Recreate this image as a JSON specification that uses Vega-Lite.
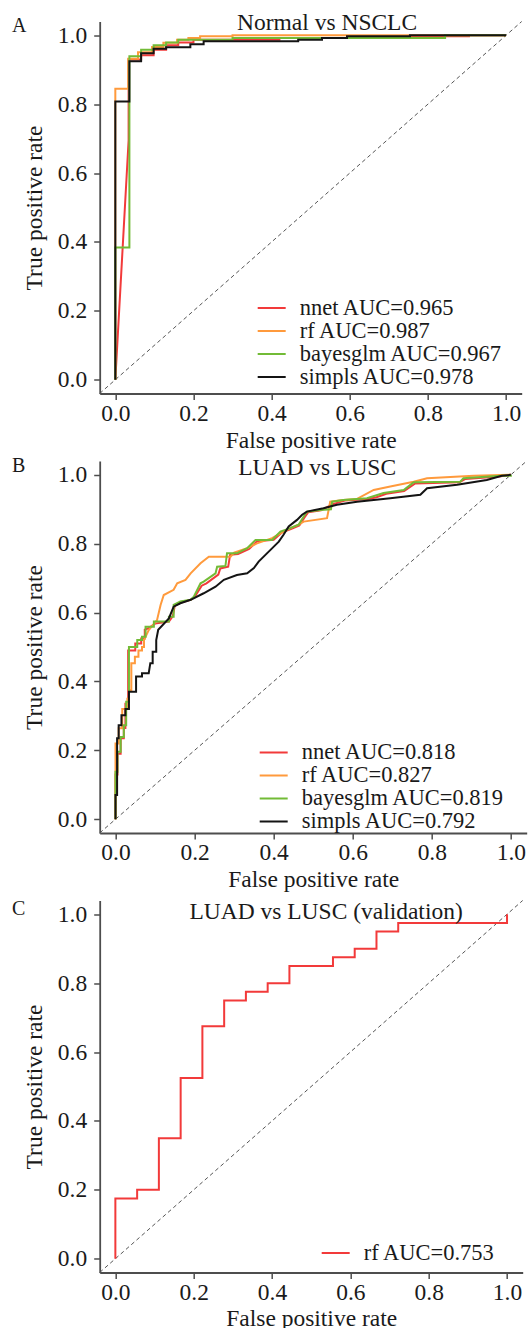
{
  "$schema": "https://vega.github.io/schema/vega-lite/v6.json",
  "padding": {"left": 11.7, "top": 10.5, "right": 0, "bottom": 0},
  "autosize": {"type": "pad"},
  "background": "white",
  "config": {
    "font": "Liberation Serif",
    "view": {"stroke": null},
    "axis": {"grid": false, "domainColor": "#4d4d4d", "domainWidth": 1.8, "tickColor": "#4d4d4d", "tickWidth": 1.5, "tickSize": 6, "labelFont": "Liberation Serif", "labelFontSize": 23.5, "labelColor": "#1a1a1a", "titleFont": "Liberation Serif", "titleFontSize": 23.5, "titleFontWeight": "normal", "titleColor": "#1a1a1a", "labelFlush": false, "labelOverlap": false},
    "axisX": {"labelPadding": 2, "titlePadding": 3},
    "axisY": {"labelPadding": 7, "titlePadding": 11},
    "legend": {"title": null, "orient": "none", "symbolType": "stroke", "symbolSize": 784, "symbolStrokeWidth": 2, "labelFont": "Liberation Serif", "labelFontSize": 22.5, "labelColor": "#1a1a1a", "labelOffset": 13, "rowPadding": 0, "clipHeight": 21, "padding": 0, "labelLimit": 400}
  },
  "datasets": {
    "A": [
      {"model":"nnet","fpr":0,"tpr":0},{"model":"nnet","fpr":0.034,"tpr":0.695},{"model":"nnet","fpr":0.034,"tpr":0.93},{"model":"nnet","fpr":0.066,"tpr":0.93},{"model":"nnet","fpr":0.066,"tpr":0.942},{"model":"nnet","fpr":0.098,"tpr":0.942},{"model":"nnet","fpr":0.098,"tpr":0.958},{"model":"nnet","fpr":0.13,"tpr":0.958},{"model":"nnet","fpr":0.13,"tpr":0.971},{"model":"nnet","fpr":0.161,"tpr":0.971},{"model":"nnet","fpr":0.161,"tpr":0.979},{"model":"nnet","fpr":0.2,"tpr":0.979},{"model":"nnet","fpr":0.2,"tpr":0.987},{"model":"nnet","fpr":0.42,"tpr":0.987},{"model":"nnet","fpr":0.42,"tpr":0.992},{"model":"nnet","fpr":0.6,"tpr":0.992},{"model":"nnet","fpr":0.6,"tpr":0.997},{"model":"nnet","fpr":0.905,"tpr":0.997},{"model":"nnet","fpr":0.905,"tpr":1},{"model":"nnet","fpr":1,"tpr":1},
      {"model":"rf","fpr":0,"tpr":0},{"model":"rf","fpr":0,"tpr":0.845},{"model":"rf","fpr":0.033,"tpr":0.845},{"model":"rf","fpr":0.033,"tpr":0.932},{"model":"rf","fpr":0.058,"tpr":0.932},{"model":"rf","fpr":0.058,"tpr":0.951},{"model":"rf","fpr":0.094,"tpr":0.951},{"model":"rf","fpr":0.094,"tpr":0.966},{"model":"rf","fpr":0.123,"tpr":0.966},{"model":"rf","fpr":0.123,"tpr":0.978},{"model":"rf","fpr":0.158,"tpr":0.978},{"model":"rf","fpr":0.158,"tpr":0.987},{"model":"rf","fpr":0.187,"tpr":0.987},{"model":"rf","fpr":0.187,"tpr":0.992},{"model":"rf","fpr":0.217,"tpr":0.992},{"model":"rf","fpr":0.217,"tpr":0.997},{"model":"rf","fpr":0.3,"tpr":0.997},{"model":"rf","fpr":0.3,"tpr":1},{"model":"rf","fpr":1,"tpr":1},
      {"model":"bayesglm","fpr":0,"tpr":0},{"model":"bayesglm","fpr":0,"tpr":0.384},{"model":"bayesglm","fpr":0.036,"tpr":0.384},{"model":"bayesglm","fpr":0.036,"tpr":0.939},{"model":"bayesglm","fpr":0.066,"tpr":0.939},{"model":"bayesglm","fpr":0.066,"tpr":0.958},{"model":"bayesglm","fpr":0.098,"tpr":0.958},{"model":"bayesglm","fpr":0.098,"tpr":0.971},{"model":"bayesglm","fpr":0.13,"tpr":0.971},{"model":"bayesglm","fpr":0.13,"tpr":0.979},{"model":"bayesglm","fpr":0.161,"tpr":0.979},{"model":"bayesglm","fpr":0.161,"tpr":0.987},{"model":"bayesglm","fpr":0.3,"tpr":0.987},{"model":"bayesglm","fpr":0.3,"tpr":0.992},{"model":"bayesglm","fpr":0.844,"tpr":0.992},{"model":"bayesglm","fpr":0.844,"tpr":1},{"model":"bayesglm","fpr":1,"tpr":1},
      {"model":"simpls","fpr":0,"tpr":0},{"model":"simpls","fpr":0,"tpr":0.808},{"model":"simpls","fpr":0.036,"tpr":0.808},{"model":"simpls","fpr":0.036,"tpr":0.925},{"model":"simpls","fpr":0.066,"tpr":0.925},{"model":"simpls","fpr":0.066,"tpr":0.948},{"model":"simpls","fpr":0.098,"tpr":0.948},{"model":"simpls","fpr":0.098,"tpr":0.961},{"model":"simpls","fpr":0.13,"tpr":0.961},{"model":"simpls","fpr":0.13,"tpr":0.965},{"model":"simpls","fpr":0.192,"tpr":0.965},{"model":"simpls","fpr":0.192,"tpr":0.974},{"model":"simpls","fpr":0.226,"tpr":0.974},{"model":"simpls","fpr":0.226,"tpr":0.983},{"model":"simpls","fpr":0.468,"tpr":0.983},{"model":"simpls","fpr":0.468,"tpr":0.987},{"model":"simpls","fpr":0.529,"tpr":0.987},{"model":"simpls","fpr":0.529,"tpr":0.992},{"model":"simpls","fpr":0.593,"tpr":0.992},{"model":"simpls","fpr":0.593,"tpr":0.997},{"model":"simpls","fpr":0.754,"tpr":0.997},{"model":"simpls","fpr":0.754,"tpr":1},{"model":"simpls","fpr":1,"tpr":1}
    ],
    "B": [
      {"model":"nnet","fpr":0,"tpr":0},{"model":"nnet","fpr":0,"tpr":0.13},{"model":"nnet","fpr":0.005,"tpr":0.13},{"model":"nnet","fpr":0.005,"tpr":0.19},{"model":"nnet","fpr":0.013,"tpr":0.19},{"model":"nnet","fpr":0.013,"tpr":0.235},{"model":"nnet","fpr":0.021,"tpr":0.235},{"model":"nnet","fpr":0.021,"tpr":0.265},{"model":"nnet","fpr":0.025,"tpr":0.265},{"model":"nnet","fpr":0.025,"tpr":0.335},{"model":"nnet","fpr":0.032,"tpr":0.335},{"model":"nnet","fpr":0.032,"tpr":0.49},{"model":"nnet","fpr":0.05,"tpr":0.49},{"model":"nnet","fpr":0.05,"tpr":0.51},{"model":"nnet","fpr":0.065,"tpr":0.51},{"model":"nnet","fpr":0.065,"tpr":0.525},{"model":"nnet","fpr":0.074,"tpr":0.525},{"model":"nnet","fpr":0.074,"tpr":0.55},{"model":"nnet","fpr":0.084,"tpr":0.555},{"model":"nnet","fpr":0.1,"tpr":0.568},{"model":"nnet","fpr":0.135,"tpr":0.574},{"model":"nnet","fpr":0.145,"tpr":0.59},{"model":"nnet","fpr":0.15,"tpr":0.62},{"model":"nnet","fpr":0.168,"tpr":0.63},{"model":"nnet","fpr":0.19,"tpr":0.637},{"model":"nnet","fpr":0.2,"tpr":0.645},{"model":"nnet","fpr":0.218,"tpr":0.678},{"model":"nnet","fpr":0.23,"tpr":0.685},{"model":"nnet","fpr":0.26,"tpr":0.71},{"model":"nnet","fpr":0.265,"tpr":0.728},{"model":"nnet","fpr":0.285,"tpr":0.733},{"model":"nnet","fpr":0.29,"tpr":0.768},{"model":"nnet","fpr":0.31,"tpr":0.77},{"model":"nnet","fpr":0.338,"tpr":0.785},{"model":"nnet","fpr":0.358,"tpr":0.807},{"model":"nnet","fpr":0.4,"tpr":0.811},{"model":"nnet","fpr":0.42,"tpr":0.832},{"model":"nnet","fpr":0.445,"tpr":0.843},{"model":"nnet","fpr":0.465,"tpr":0.853},{"model":"nnet","fpr":0.478,"tpr":0.876},{"model":"nnet","fpr":0.487,"tpr":0.891},{"model":"nnet","fpr":0.52,"tpr":0.897},{"model":"nnet","fpr":0.55,"tpr":0.915},{"model":"nnet","fpr":0.58,"tpr":0.925},{"model":"nnet","fpr":0.64,"tpr":0.93},{"model":"nnet","fpr":0.66,"tpr":0.935},{"model":"nnet","fpr":0.685,"tpr":0.945},{"model":"nnet","fpr":0.73,"tpr":0.953},{"model":"nnet","fpr":0.758,"tpr":0.975},{"model":"nnet","fpr":0.87,"tpr":0.978},{"model":"nnet","fpr":0.885,"tpr":0.988},{"model":"nnet","fpr":0.97,"tpr":0.995},{"model":"nnet","fpr":1,"tpr":1},
      {"model":"rf","fpr":0,"tpr":0},{"model":"rf","fpr":0,"tpr":0.22},{"model":"rf","fpr":0.008,"tpr":0.22},{"model":"rf","fpr":0.008,"tpr":0.264},{"model":"rf","fpr":0.017,"tpr":0.264},{"model":"rf","fpr":0.017,"tpr":0.32},{"model":"rf","fpr":0.03,"tpr":0.32},{"model":"rf","fpr":0.03,"tpr":0.35},{"model":"rf","fpr":0.034,"tpr":0.35},{"model":"rf","fpr":0.034,"tpr":0.375},{"model":"rf","fpr":0.04,"tpr":0.375},{"model":"rf","fpr":0.04,"tpr":0.453},{"model":"rf","fpr":0.049,"tpr":0.453},{"model":"rf","fpr":0.049,"tpr":0.472},{"model":"rf","fpr":0.058,"tpr":0.472},{"model":"rf","fpr":0.058,"tpr":0.49},{"model":"rf","fpr":0.067,"tpr":0.49},{"model":"rf","fpr":0.067,"tpr":0.5},{"model":"rf","fpr":0.072,"tpr":0.5},{"model":"rf","fpr":0.072,"tpr":0.52},{"model":"rf","fpr":0.084,"tpr":0.549},{"model":"rf","fpr":0.105,"tpr":0.578},{"model":"rf","fpr":0.114,"tpr":0.622},{"model":"rf","fpr":0.122,"tpr":0.651},{"model":"rf","fpr":0.147,"tpr":0.666},{"model":"rf","fpr":0.156,"tpr":0.685},{"model":"rf","fpr":0.177,"tpr":0.695},{"model":"rf","fpr":0.19,"tpr":0.714},{"model":"rf","fpr":0.215,"tpr":0.743},{"model":"rf","fpr":0.236,"tpr":0.762},{"model":"rf","fpr":0.291,"tpr":0.762},{"model":"rf","fpr":0.3,"tpr":0.774},{"model":"rf","fpr":0.333,"tpr":0.787},{"model":"rf","fpr":0.358,"tpr":0.801},{"model":"rf","fpr":0.396,"tpr":0.816},{"model":"rf","fpr":0.417,"tpr":0.83},{"model":"rf","fpr":0.442,"tpr":0.845},{"model":"rf","fpr":0.463,"tpr":0.855},{"model":"rf","fpr":0.476,"tpr":0.864},{"model":"rf","fpr":0.535,"tpr":0.874},{"model":"rf","fpr":0.543,"tpr":0.922},{"model":"rf","fpr":0.576,"tpr":0.927},{"model":"rf","fpr":0.611,"tpr":0.93},{"model":"rf","fpr":0.653,"tpr":0.956},{"model":"rf","fpr":0.695,"tpr":0.966},{"model":"rf","fpr":0.754,"tpr":0.98},{"model":"rf","fpr":0.788,"tpr":0.99},{"model":"rf","fpr":0.906,"tpr":0.997},{"model":"rf","fpr":1,"tpr":1},
      {"model":"bayesglm","fpr":0,"tpr":0},{"model":"bayesglm","fpr":0,"tpr":0.138},{"model":"bayesglm","fpr":0.005,"tpr":0.138},{"model":"bayesglm","fpr":0.005,"tpr":0.196},{"model":"bayesglm","fpr":0.013,"tpr":0.196},{"model":"bayesglm","fpr":0.013,"tpr":0.239},{"model":"bayesglm","fpr":0.021,"tpr":0.239},{"model":"bayesglm","fpr":0.021,"tpr":0.273},{"model":"bayesglm","fpr":0.027,"tpr":0.273},{"model":"bayesglm","fpr":0.027,"tpr":0.341},{"model":"bayesglm","fpr":0.034,"tpr":0.341},{"model":"bayesglm","fpr":0.034,"tpr":0.5},{"model":"bayesglm","fpr":0.055,"tpr":0.5},{"model":"bayesglm","fpr":0.055,"tpr":0.52},{"model":"bayesglm","fpr":0.067,"tpr":0.52},{"model":"bayesglm","fpr":0.067,"tpr":0.53},{"model":"bayesglm","fpr":0.076,"tpr":0.53},{"model":"bayesglm","fpr":0.076,"tpr":0.559},{"model":"bayesglm","fpr":0.097,"tpr":0.559},{"model":"bayesglm","fpr":0.097,"tpr":0.574},{"model":"bayesglm","fpr":0.135,"tpr":0.574},{"model":"bayesglm","fpr":0.135,"tpr":0.588},{"model":"bayesglm","fpr":0.147,"tpr":0.588},{"model":"bayesglm","fpr":0.147,"tpr":0.622},{"model":"bayesglm","fpr":0.164,"tpr":0.632},{"model":"bayesglm","fpr":0.19,"tpr":0.637},{"model":"bayesglm","fpr":0.198,"tpr":0.646},{"model":"bayesglm","fpr":0.215,"tpr":0.685},{"model":"bayesglm","fpr":0.223,"tpr":0.69},{"model":"bayesglm","fpr":0.253,"tpr":0.714},{"model":"bayesglm","fpr":0.257,"tpr":0.733},{"model":"bayesglm","fpr":0.278,"tpr":0.735},{"model":"bayesglm","fpr":0.282,"tpr":0.772},{"model":"bayesglm","fpr":0.307,"tpr":0.772},{"model":"bayesglm","fpr":0.333,"tpr":0.787},{"model":"bayesglm","fpr":0.354,"tpr":0.811},{"model":"bayesglm","fpr":0.396,"tpr":0.811},{"model":"bayesglm","fpr":0.417,"tpr":0.835},{"model":"bayesglm","fpr":0.442,"tpr":0.845},{"model":"bayesglm","fpr":0.463,"tpr":0.855},{"model":"bayesglm","fpr":0.476,"tpr":0.879},{"model":"bayesglm","fpr":0.484,"tpr":0.893},{"model":"bayesglm","fpr":0.518,"tpr":0.898},{"model":"bayesglm","fpr":0.545,"tpr":0.9},{"model":"bayesglm","fpr":0.548,"tpr":0.922},{"model":"bayesglm","fpr":0.576,"tpr":0.927},{"model":"bayesglm","fpr":0.636,"tpr":0.932},{"model":"bayesglm","fpr":0.678,"tpr":0.947},{"model":"bayesglm","fpr":0.729,"tpr":0.956},{"model":"bayesglm","fpr":0.754,"tpr":0.978},{"model":"bayesglm","fpr":0.872,"tpr":0.98},{"model":"bayesglm","fpr":0.88,"tpr":0.99},{"model":"bayesglm","fpr":0.975,"tpr":0.997},{"model":"bayesglm","fpr":1,"tpr":0.997},{"model":"bayesglm","fpr":1,"tpr":1},
      {"model":"simpls","fpr":0,"tpr":0},{"model":"simpls","fpr":0,"tpr":0.07},{"model":"simpls","fpr":0.004,"tpr":0.07},{"model":"simpls","fpr":0.004,"tpr":0.235},{"model":"simpls","fpr":0.008,"tpr":0.235},{"model":"simpls","fpr":0.008,"tpr":0.273},{"model":"simpls","fpr":0.015,"tpr":0.273},{"model":"simpls","fpr":0.015,"tpr":0.302},{"model":"simpls","fpr":0.025,"tpr":0.302},{"model":"simpls","fpr":0.025,"tpr":0.32},{"model":"simpls","fpr":0.034,"tpr":0.32},{"model":"simpls","fpr":0.034,"tpr":0.37},{"model":"simpls","fpr":0.052,"tpr":0.37},{"model":"simpls","fpr":0.052,"tpr":0.414},{"model":"simpls","fpr":0.067,"tpr":0.414},{"model":"simpls","fpr":0.067,"tpr":0.424},{"model":"simpls","fpr":0.084,"tpr":0.424},{"model":"simpls","fpr":0.088,"tpr":0.453},{"model":"simpls","fpr":0.094,"tpr":0.453},{"model":"simpls","fpr":0.094,"tpr":0.486},{"model":"simpls","fpr":0.103,"tpr":0.486},{"model":"simpls","fpr":0.103,"tpr":0.52},{"model":"simpls","fpr":0.108,"tpr":0.55},{"model":"simpls","fpr":0.135,"tpr":0.583},{"model":"simpls","fpr":0.147,"tpr":0.617},{"model":"simpls","fpr":0.164,"tpr":0.627},{"model":"simpls","fpr":0.19,"tpr":0.637},{"model":"simpls","fpr":0.223,"tpr":0.656},{"model":"simpls","fpr":0.253,"tpr":0.675},{"model":"simpls","fpr":0.274,"tpr":0.695},{"model":"simpls","fpr":0.307,"tpr":0.709},{"model":"simpls","fpr":0.333,"tpr":0.714},{"model":"simpls","fpr":0.35,"tpr":0.729},{"model":"simpls","fpr":0.362,"tpr":0.748},{"model":"simpls","fpr":0.392,"tpr":0.782},{"model":"simpls","fpr":0.413,"tpr":0.806},{"model":"simpls","fpr":0.425,"tpr":0.826},{"model":"simpls","fpr":0.438,"tpr":0.85},{"model":"simpls","fpr":0.459,"tpr":0.869},{"model":"simpls","fpr":0.472,"tpr":0.884},{"model":"simpls","fpr":0.484,"tpr":0.893},{"model":"simpls","fpr":0.526,"tpr":0.903},{"model":"simpls","fpr":0.56,"tpr":0.913},{"model":"simpls","fpr":0.611,"tpr":0.922},{"model":"simpls","fpr":0.695,"tpr":0.932},{"model":"simpls","fpr":0.771,"tpr":0.942},{"model":"simpls","fpr":0.788,"tpr":0.961},{"model":"simpls","fpr":0.864,"tpr":0.971},{"model":"simpls","fpr":0.939,"tpr":0.985},{"model":"simpls","fpr":0.977,"tpr":0.997},{"model":"simpls","fpr":1,"tpr":1}
    ],
    "C": [
      {"model":"rf","fpr":0,"tpr":0},{"model":"rf","fpr":0,"tpr":0.175},{"model":"rf","fpr":0.0556,"tpr":0.175},{"model":"rf","fpr":0.0556,"tpr":0.2},{"model":"rf","fpr":0.1111,"tpr":0.2},{"model":"rf","fpr":0.1111,"tpr":0.35},{"model":"rf","fpr":0.1667,"tpr":0.35},{"model":"rf","fpr":0.1667,"tpr":0.525},{"model":"rf","fpr":0.2222,"tpr":0.525},{"model":"rf","fpr":0.2222,"tpr":0.675},{"model":"rf","fpr":0.2778,"tpr":0.675},{"model":"rf","fpr":0.2778,"tpr":0.75},{"model":"rf","fpr":0.3333,"tpr":0.75},{"model":"rf","fpr":0.3333,"tpr":0.775},{"model":"rf","fpr":0.3889,"tpr":0.775},{"model":"rf","fpr":0.3889,"tpr":0.8},{"model":"rf","fpr":0.4444,"tpr":0.8},{"model":"rf","fpr":0.4444,"tpr":0.85},{"model":"rf","fpr":0.5556,"tpr":0.85},{"model":"rf","fpr":0.5556,"tpr":0.875},{"model":"rf","fpr":0.6111,"tpr":0.875},{"model":"rf","fpr":0.6111,"tpr":0.9},{"model":"rf","fpr":0.6667,"tpr":0.9},{"model":"rf","fpr":0.6667,"tpr":0.95},{"model":"rf","fpr":0.7222,"tpr":0.95},{"model":"rf","fpr":0.7222,"tpr":0.975},{"model":"rf","fpr":1,"tpr":0.975},{"model":"rf","fpr":1,"tpr":1}
    ]
  },
  "bounds": "flush",
  "spacing": 67.5,
  "resolve": {"scale": {"color": "independent", "x": "independent", "y": "independent"}},
  "vconcat": [
    {
      "width": 422, "height": 372,
      "layer": [
        {"data": {"values": [{}]}, "mark": {"type": "rule", "strokeDash": [4, 3], "color": "#555555", "strokeWidth": 1},
         "encoding": {"x": {"datum": -0.04, "type": "quantitative", "scale": {"domain": [-0.04, 1.04], "nice": false, "zero": false}}, "y": {"datum": -0.04, "type": "quantitative", "scale": {"domain": [-0.04, 1.04], "nice": false, "zero": false}}, "x2": {"datum": 1.04}, "y2": {"datum": 1.04}}},
        {"data": {"name": "A"}, "mark": {"type": "line", "strokeWidth": 2},
         "encoding": {
           "x": {"field": "fpr", "type": "quantitative", "scale": {"domain": [-0.04, 1.04], "nice": false, "zero": false}, "axis": {"title": "False positive rate", "values": [0, 0.2, 0.4, 0.6, 0.8, 1], "format": ".1f"}},
           "y": {"field": "tpr", "type": "quantitative", "scale": {"domain": [-0.04, 1.04], "nice": false, "zero": false}, "axis": {"title": "True positive rate", "values": [0, 0.2, 0.4, 0.6, 0.8, 1], "format": ".1f"}},
           "color": {"field": "model", "type": "nominal", "scale": {"domain": ["nnet", "rf", "bayesglm", "simpls"], "range": ["#f23a3a", "#ff9a3c", "#72bb36", "#141414"]},
             "legend": {"legendX": 157, "legendY": 276, "labelExpr": "datum.label == 'nnet' ? 'nnet AUC=0.965' : datum.label == 'rf' ? 'rf AUC=0.987' : datum.label == 'bayesglm' ? 'bayesglm AUC=0.967' : 'simpls AUC=0.978'"}},
           "order": {"value": null}
         }},
        {"data": {"values": [{}]}, "mark": {"type": "text", "fontSize": 23.5, "align": "center", "baseline": "alphabetic", "color": "#1a1a1a"},
         "encoding": {"x": {"datum": 0.542, "type": "quantitative", "scale": {"domain": [-0.04, 1.04]}}, "y": {"datum": 1.0165, "type": "quantitative", "scale": {"domain": [-0.04, 1.04]}}, "text": {"value": "Normal vs NSCLC"}}},
        {"data": {"values": [{}]}, "mark": {"type": "text", "fontSize": 20, "align": "left", "baseline": "alphabetic", "color": "#1a1a1a"},
         "encoding": {"x": {"datum": -0.2643, "type": "quantitative", "scale": {"domain": [-0.04, 1.04]}}, "y": {"datum": 1.009, "type": "quantitative", "scale": {"domain": [-0.04, 1.04]}}, "text": {"value": "A"}}}
      ]
    },
    {
      "width": 427, "height": 372,
      "layer": [
        {"data": {"values": [{}]}, "mark": {"type": "rule", "strokeDash": [4, 3], "color": "#555555", "strokeWidth": 1},
         "encoding": {"x": {"datum": -0.04, "type": "quantitative", "scale": {"domain": [-0.04, 1.04], "nice": false, "zero": false}}, "y": {"datum": -0.04, "type": "quantitative", "scale": {"domain": [-0.04, 1.04], "nice": false, "zero": false}}, "x2": {"datum": 1.04}, "y2": {"datum": 1.04}}},
        {"data": {"name": "B"}, "mark": {"type": "line", "strokeWidth": 2},
         "encoding": {
           "x": {"field": "fpr", "type": "quantitative", "scale": {"domain": [-0.04, 1.04], "nice": false, "zero": false}, "axis": {"title": "False positive rate", "values": [0, 0.2, 0.4, 0.6, 0.8, 1], "format": ".1f"}},
           "y": {"field": "tpr", "type": "quantitative", "scale": {"domain": [-0.04, 1.04], "nice": false, "zero": false}, "axis": {"title": "True positive rate", "values": [0, 0.2, 0.4, 0.6, 0.8, 1], "format": ".1f"}},
           "color": {"field": "model", "type": "nominal", "scale": {"domain": ["nnet", "rf", "bayesglm", "simpls"], "range": ["#f23a3a", "#ff9a3c", "#72bb36", "#141414"]},
             "legend": {"legendX": 159, "legendY": 281, "labelExpr": "datum.label == 'nnet' ? 'nnet AUC=0.818' : datum.label == 'rf' ? 'rf AUC=0.827' : datum.label == 'bayesglm' ? 'bayesglm AUC=0.819' : 'simpls AUC=0.792'"}},
           "order": {"value": null}
         }},
        {"data": {"values": [{}]}, "mark": {"type": "text", "fontSize": 23.5, "align": "center", "baseline": "alphabetic", "color": "#1a1a1a"},
         "encoding": {"x": {"datum": 0.51, "type": "quantitative", "scale": {"domain": [-0.04, 1.04]}}, "y": {"datum": 1.0, "type": "quantitative", "scale": {"domain": [-0.04, 1.04]}}, "text": {"value": "LUAD vs LUSC"}}},
        {"data": {"values": [{}]}, "mark": {"type": "text", "fontSize": 20, "align": "left", "baseline": "alphabetic", "color": "#1a1a1a"},
         "encoding": {"x": {"datum": -0.2616, "type": "quantitative", "scale": {"domain": [-0.04, 1.04]}}, "y": {"datum": 1.007, "type": "quantitative", "scale": {"domain": [-0.04, 1.04]}}, "text": {"value": "B"}}}
      ]
    },
    {
      "width": 423, "height": 372,
      "layer": [
        {"data": {"values": [{}]}, "mark": {"type": "rule", "strokeDash": [4, 3], "color": "#555555", "strokeWidth": 1},
         "encoding": {"x": {"datum": -0.04, "type": "quantitative", "scale": {"domain": [-0.04, 1.04], "nice": false, "zero": false}}, "y": {"datum": -0.04, "type": "quantitative", "scale": {"domain": [-0.04, 1.04], "nice": false, "zero": false}}, "x2": {"datum": 1.04}, "y2": {"datum": 1.04}}},
        {"data": {"name": "C"}, "mark": {"type": "line", "strokeWidth": 2},
         "encoding": {
           "x": {"field": "fpr", "type": "quantitative", "scale": {"domain": [-0.04, 1.04], "nice": false, "zero": false}, "axis": {"title": "False positive rate", "values": [0, 0.2, 0.4, 0.6, 0.8, 1], "format": ".1f"}},
           "y": {"field": "tpr", "type": "quantitative", "scale": {"domain": [-0.04, 1.04], "nice": false, "zero": false}, "axis": {"title": "True positive rate", "values": [0, 0.2, 0.4, 0.6, 0.8, 1], "format": ".1f"}},
           "color": {"field": "model", "type": "nominal", "scale": {"domain": ["rf"], "range": ["#f23a3a"]},
             "legend": {"legendX": 221, "legendY": 342, "labelExpr": "'rf AUC=0.753'"}},
           "order": {"value": null}
         }},
        {"data": {"values": [{}]}, "mark": {"type": "text", "fontSize": 23.5, "align": "center", "baseline": "alphabetic", "color": "#1a1a1a"},
         "encoding": {"x": {"datum": 0.538, "type": "quantitative", "scale": {"domain": [-0.04, 1.04]}}, "y": {"datum": 0.987, "type": "quantitative", "scale": {"domain": [-0.04, 1.04]}}, "text": {"value": "LUAD vs LUSC (validation)"}}},
        {"data": {"values": [{}]}, "mark": {"type": "text", "fontSize": 20, "align": "left", "baseline": "alphabetic", "color": "#1a1a1a"},
         "encoding": {"x": {"datum": -0.2637, "type": "quantitative", "scale": {"domain": [-0.04, 1.04]}}, "y": {"datum": 0.997, "type": "quantitative", "scale": {"domain": [-0.04, 1.04]}}, "text": {"value": "C"}}}
      ]
    }
  ]
}
